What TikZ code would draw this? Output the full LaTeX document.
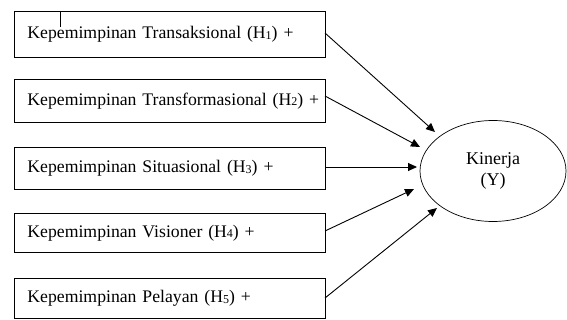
\documentclass[tikz,border=0pt]{standalone}
\usepackage{fontspec}
\setmainfont{Liberation Serif}
\usetikzlibrary{arrows.meta,shapes.geometric}
\newcommand{\hsub}[1]{\raisebox{-0.6pt}{\fontsize{12pt}{13pt}\selectfont #1}}
\newcommand{\boxtext}[1]{\mbox{#1}}
\begin{document}
\begin{tikzpicture}[x=1pt,y=-1pt,
  varbox/.style={draw, line width=0.9pt, rectangle, anchor=north west, minimum width=311pt,
    text width=285pt, inner xsep=13pt, align=left, font=\fontsize{17.7pt}{21pt}\selectfont},
  arr/.style={line width=0.9pt, -{Triangle[length=9pt,width=8pt]}}]
\useasboundingbox (0,0) rectangle (567,320);
\node[varbox, minimum height=46pt] (b1) at (14,11) {\boxtext{Kepemimpinan Transaksional (H\hsub{1}) +}};
\node[varbox, minimum height=43pt] (b2) at (14,79) {\boxtext{Kepemimpinan Transformasional (H\hsub{2}) +}};
\node[varbox, minimum height=42pt] (b3) at (14,147) {\boxtext{Kepemimpinan Situasional (H\hsub{3}) +}};
\node[varbox, minimum height=39pt] (b4) at (14,213) {\boxtext{Kepemimpinan Visioner (H\hsub{4}) +}};
\node[varbox, minimum height=40pt] (b5) at (14,278) {\boxtext{Kepemimpinan Pelayan (H\hsub{5}) +}};
\node[draw, line width=0.7pt, ellipse, minimum width=146pt, minimum height=101pt, align=center,
  font=\fontsize{18pt}{21pt}\selectfont] (k) at (493,171) {Kinerja\\(Y)};
\coordinate (m1) at (60,11);
\coordinate (m2) at (60,27);
\draw[line width=0.8pt] (m1) -- (m2);
\coordinate (s1) at (325,33);  \coordinate (t1) at (435,132);
\coordinate (s2) at (325,96);  \coordinate (t2) at (420,147);
\coordinate (s3) at (325,167); \coordinate (t3) at (417,167);
\coordinate (s4) at (325,231); \coordinate (t4) at (414,189);
\coordinate (s5) at (325,298); \coordinate (t5) at (437,208);
\draw[arr] (s1) -- (t1);
\draw[arr] (s2) -- (t2);
\draw[arr] (s3) -- (t3);
\draw[arr] (s4) -- (t4);
\draw[arr] (s5) -- (t5);
\end{tikzpicture}
\end{document}
